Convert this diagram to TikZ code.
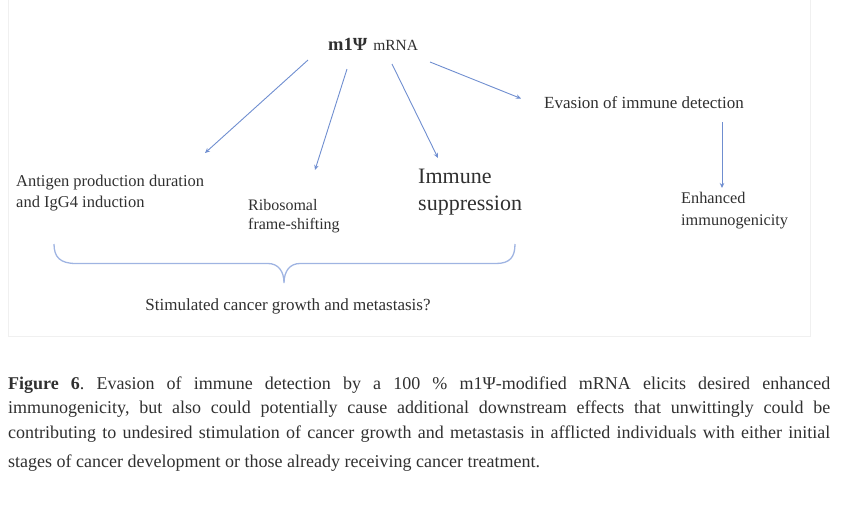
\documentclass[tikz,border=0pt]{standalone}
\usepackage{fontspec}
\setmainfont{Liberation Serif}
\usetikzlibrary{arrows.meta}
\definecolor{txt}{HTML}{303030}
\definecolor{arr}{HTML}{6F8ED0}
\definecolor{brc}{HTML}{9FB4E2}
\definecolor{framec}{HTML}{F0F0F0}
\frenchspacing
\begin{document}
\begin{tikzpicture}[x=1pt,y=-1pt,
  lbl/.style={inner sep=0pt, text=txt, align=left, font=\fontsize{16.5}{21}\selectfont},
  conn/.style={draw=arr, line width=0.9pt, -{Stealth[length=5pt,width=4.5pt]}},
  capline/.style={inner sep=0pt, text=txt, anchor=base west, font=\fontsize{18}{24}\selectfont}]
\useasboundingbox (0,0) rectangle (841,515);
\draw[framec, line width=0.8pt] (8,-1) -- (8,336) -- (810,336) -- (810,-1);

% top node
\node[inner sep=0pt, text=txt, anchor=base west] (mrna) at (328,50)
  {{\fontsize{18.5}{20}\selectfont\bfseries m1Ψ}\hspace{6pt}{\fontsize{15.5}{16}\selectfont mRNA}};

% level nodes
\node[lbl, anchor=north west] (ag) at (16,174.4) {Antigen production duration\\and IgG4 induction};
\node[lbl, anchor=north west, font=\fontsize{16}{19}\selectfont] (rib) at (248,199.4) {Ribosomal\\frame-shifting};
\node[lbl, anchor=north west, font=\fontsize{22}{27}\selectfont] (imm) at (418,168.4) {Immune\\suppression};
\node[lbl, anchor=base west, font=\fontsize{17}{21}\selectfont] (eva) at (544,108.7) {Evasion of immune detection};
\node[lbl, anchor=north west, font=\fontsize{16.3}{21.7}\selectfont] (enh) at (681,192.4) {Enhanced\\immunogenicity};
\node[lbl, anchor=base, font=\fontsize{17}{21}\selectfont] (stim) at (288,310.7) {Stimulated cancer growth and metastasis?};

% connector end points
\coordinate (s1) at (308,60);  \coordinate (e1) at (205,153);
\coordinate (s2) at (347,69);  \coordinate (e2) at (315,170);
\coordinate (s3) at (392,64);  \coordinate (e3) at (438,158);
\coordinate (s4) at (430,62);  \coordinate (e4) at (521,98.5);
\coordinate (s5) at (722,122); \coordinate (e5) at (722,188);
\draw[conn] (s1) -- (e1);
\draw[conn] (s2) -- (e2);
\draw[conn] (s3) -- (e3);
\draw[conn] (s4) -- (e4);
\draw[conn] (s5) -- (e5);

% brace
\draw[brc, line width=1.3pt]
  (54,244) .. controls (54,257) and (60,263.5) .. (76,263.5)
  -- (268,263.5) .. controls (278,263.5) and (284,271) .. (284,283)
  .. controls (284,271) and (290,263.5) .. (300,263.5)
  -- (496,263.5) .. controls (510,263.5) and (515,257) .. (515,244);

% caption
\node[capline] (c1) at (8,389) {\makebox[822pt][s]{\textbf{Figure 6}. Evasion of immune detection by a 100 \% m1Ψ-modified mRNA elicits desired enhanced}};
\node[capline] (c2) at (8,413) {\makebox[822pt][s]{immunogenicity, but also could potentially cause additional downstream effects that unwittingly could be}};
\node[capline] (c3) at (8,438) {\makebox[822pt][s]{contributing to undesired stimulation of cancer growth and metastasis in afflicted individuals with either initial}};
\node[capline] (c4) at (8,467) {stages of cancer development or those already receiving cancer treatment.};
\end{tikzpicture}
\end{document}
